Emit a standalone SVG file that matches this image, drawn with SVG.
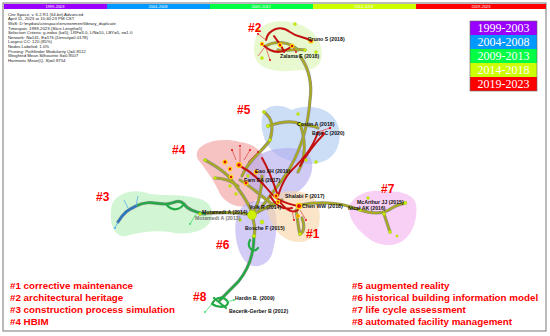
<svg xmlns="http://www.w3.org/2000/svg" width="550" height="336" viewBox="0 0 550 336">
<style>
.hdr{font-family:"Liberation Sans",Arial,sans-serif;font-size:4.3px;fill:#222}
.bar{font-family:"Liberation Sans",Arial,sans-serif;font-size:4px;fill:#fff;text-anchor:middle}
.leg{font-family:"Liberation Serif","Times New Roman",serif;font-size:12px;fill:#fff;text-anchor:middle}
.cl{font-family:"Liberation Sans",Arial,sans-serif;font-size:12px;font-weight:bold;fill:#ff0000}
.bt{font-family:"Liberation Sans",Arial,sans-serif;font-size:9.8px;font-weight:bold;fill:#ff0000}
.nl{font-family:"Liberation Sans",Arial,sans-serif;font-size:5.2px;font-weight:bold;fill:#111}
.blob{stroke:none;opacity:0.6}
.sh{fill:none;stroke:#8f8f8f;stroke-width:3.2;stroke-linecap:round}
.ol{fill:none;stroke:#a9aa1e;stroke-width:2;stroke-linecap:round}
.rd{fill:none;stroke:#c4100f;stroke-width:2;stroke-linecap:round}
.rt{fill:none;stroke:#e04040;stroke-width:0.7}
.gr{fill:none;stroke:#22aa44;stroke-width:2.2;stroke-linecap:round}
.gt{fill:none;stroke:#44dd66;stroke-width:0.8}
.bl{fill:none;stroke:#2a78c0;stroke-width:2.4;stroke-linecap:round}
.bt2{fill:none;stroke:#55aaee;stroke-width:0.8}
.yn{fill:#ccf000;stroke:#aacc00;stroke-width:0.4}
.rn{fill:#e01010}
.rr{fill:#e01010;stroke:#ffd400;stroke-width:1.2}
</style>
<rect x="3" y="3" width="543" height="328" fill="#fff" stroke="#777" stroke-width="1"/>
<g id="timebar">
<rect x="4" y="4" width="103" height="5" fill="#9900ff"/>
<rect x="107" y="4" width="103" height="5" fill="#0099ff"/>
<rect x="210" y="4" width="103" height="5" fill="#00ff44"/>
<rect x="313" y="4" width="103" height="5" fill="#ccff00"/>
<rect x="416" y="4" width="130" height="5" fill="#ff0000"/>
<text class="bar" x="55" y="8.2">1999-2003</text>
<text class="bar" x="158" y="8.2">2004-2008</text>
<text class="bar" x="261" y="8.2">2009-2013</text>
<text class="bar" x="364" y="8.2">2014-2018</text>
<text class="bar" x="481" y="8.2">2019-2023</text>
</g>
<g id="header">
<text class="hdr" x="8" y="15.5">Cite Space, v. 6.2.R1 (64-bit) Advanced</text>
<text class="hdr" x="8" y="20.2">April 11, 2023 at 10:40:23 PM CST</text>
<text class="hdr" x="8" y="24.8">WoS: D:\mydata\citespace\environment\library_duplicate</text>
<text class="hdr" x="8" y="29.5">Timespan: 1999-2023 (Slice Length=5)</text>
<text class="hdr" x="8" y="34.1">Selection Criteria: g-index (k=5), LRF=3.0, L/N=10, LBY=5, e=1.0</text>
<text class="hdr" x="8" y="38.8">Network: N=141, E=176 (Density=0.0178)</text>
<text class="hdr" x="8" y="43.4">Largest CC: 120 (85%)</text>
<text class="hdr" x="8" y="48.1">Nodes Labeled: 1.0%</text>
<text class="hdr" x="8" y="52.7">Pruning: Pathfinder Modularity Q=0.8112</text>
<text class="hdr" x="8" y="57.4">Weighted Mean Silhouette S=0.9507</text>
<text class="hdr" x="8" y="62">Harmonic Mean(Q, S)=0.8754</text>
</g>
<g id="legend">
<rect x="470" y="21" width="67" height="14" fill="#9900ff"/>
<rect x="470" y="35" width="67" height="14" fill="#0099ff"/>
<rect x="470" y="49" width="67" height="14" fill="#00ff44"/>
<rect x="470" y="63" width="67" height="14" fill="#ccff00"/>
<rect x="470" y="77" width="67" height="14" fill="#ff0000"/>
<rect x="470" y="21" width="67" height="70" fill="none" stroke="#666" stroke-width="0.6"/>
<text class="leg" x="503.5" y="32">1999-2003</text>
<text class="leg" x="503.5" y="46">2004-2008</text>
<text class="leg" x="503.5" y="60">2009-2013</text>
<text class="leg" x="503.5" y="74">2014-2018</text>
<text class="leg" x="503.5" y="88">2019-2023</text>
</g>
<g id="clusters">
<path id="c2" class="blob" fill="#d8f5b0" d="M258 32 C262 22 280 18 298 24 C312 28 322 40 322 54 C322 66 312 72 298 70 C288 72 272 72 262 66 C252 60 252 44 258 32 Z"/>
<path id="c5" class="blob" fill="#a8c8f0" d="M264 112 C268 104 282 104 292 110 C305 104 325 106 334 118 C342 128 342 146 332 156 C322 166 300 166 288 160 C276 156 266 148 263 134 C261 126 261 118 264 112 Z"/>
<path id="c4" class="blob" fill="#f29a9a" d="M198 150 C205 140 225 138 240 142 C255 144 266 152 266 168 C266 182 262 196 252 204 C240 210 226 204 220 194 C214 180 206 170 200 162 C196 158 196 154 198 150 Z"/>
<path id="cmid" class="blob" fill="#b0a8ee" d="M252 160 C262 150 285 145 302 150 C315 155 315 172 306 184 C296 196 282 202 266 198 C252 194 244 182 246 172 C247 166 249 163 252 160 Z"/>
<path id="c6" class="blob" fill="#b4aaf0" d="M240 210 C246 200 262 198 272 206 C280 216 276 240 272 254 C268 266 254 270 246 262 C236 252 234 230 236 220 C237 216 238 213 240 210 Z"/>
<path id="c1" class="blob" fill="#f8d4a4" d="M268 200 C276 190 298 188 312 196 C322 204 322 226 314 236 C306 244 292 244 282 236 C272 228 264 212 268 200 Z"/>
<path id="c3" class="blob" fill="#b4f0b8" d="M112 204 C118 192 136 188 150 194 C166 196 180 194 196 198 C210 200 216 212 210 222 C204 232 186 236 170 232 C156 230 140 232 126 236 C114 238 108 222 112 204 Z"/>
<path id="c7" class="blob" fill="#f4b0ee" d="M350 204 C356 194 372 188 384 192 C398 190 414 194 416 204 C418 216 414 232 404 240 C394 248 378 246 368 238 C358 230 346 218 350 204 Z"/>
</g>
<g id="connectors">
<path class="sh" d="M300 56 C310 70 312 86 310 100 C308 130 300 150 290 168 C282 182 270 195 258 212"/>
<path class="ol" d="M300 56 C310 70 312 86 310 100 C308 130 300 150 290 168 C282 182 270 195 258 212"/>
<path class="sh" d="M266 46 C276 40 290 42 298 50 M278 50 C286 52 296 48 305 50"/>
<path class="ol" d="M266 46 C276 40 290 42 298 50 M278 50 C286 52 296 48 305 50"/>
<path class="sh" d="M264 112 C272 118 274 126 270 140 C262 152 248 160 242 176 M268 126 C280 122 292 120 300 124 C308 127 312 124 318 128 M300 124 C306 140 306 158 298 172"/>
<path class="ol" d="M264 112 C272 118 274 126 270 140 C262 152 248 160 242 176 M268 126 C280 122 292 120 300 124 C308 127 312 124 318 128 M300 124 C306 140 306 158 298 172"/>
<path class="sh" d="M205 160 C212 164 220 168 228 176 C236 186 244 194 252 212 M215 178 C222 178 230 180 238 186 M240 180 C250 186 262 196 274 206"/>
<path class="ol" d="M205 160 C212 164 220 168 228 176 C236 186 244 194 252 212 M215 178 C222 178 230 180 238 186 M240 180 C250 186 262 196 274 206"/>
<path class="sh" d="M200 214 C220 212 238 212 252 215 C262 210 272 204 282 200 M252 215 C258 206 262 190 262 176 M252 215 C254 222 256 230 254 236"/>
<path class="ol" d="M200 214 C220 212 238 212 252 215 C262 210 272 204 282 200 M252 215 C258 206 262 190 262 176 M252 215 C254 222 256 230 254 236"/>
<path class="sh" d="M300 205 C325 200 345 204 360 210 C372 214 384 214 392 208 C398 204 402 204 405 203 M384 214 C386 220 388 226 390 232"/>
<path class="ol" d="M300 205 C325 200 345 204 360 210 C372 214 384 214 392 208 C398 204 402 204 405 203 M384 214 C386 220 388 226 390 232"/>
<path class="sh" d="M296 210 C298 220 298 228 300 234 C304 232 305 226 302 218"/>
<path class="ol" d="M296 210 C298 220 298 228 300 234 C304 232 305 226 302 218"/>
<path class="rd" d="M266 40 C268 30 280 24 290 32 C298 38 304 36 311 41 M262 44 C270 52 280 56 292 46 M274 36 C278 42 282 46 284 52"/>
<path class="rt" d="M266 40 L258 34 M266 48 L270 60 M292 46 L296 52 M264 48 L258 56"/>
<path class="rd" d="M240 166 C252 172 262 182 270 192 C276 200 288 204 298 206 M262 158 C268 168 272 178 278 196 M318 132 C312 150 302 160 290 172 C282 182 280 190 278 196 M324 134 C316 142 308 152 300 166"/>
<path class="rd" d="M280 202 C286 210 292 214 298 210 M270 196 C276 206 284 210 292 208"/>
<path class="rt" d="M236 160 L232 150 M240 162 L240 148 M244 160 L250 150 M248 162 L258 152 M318 132 L330 128 M300 210 L306 220 M292 210 L294 220"/>
<path class="sh" d="M118 222 C124 212 128 210 136 206 C148 200 156 204 166 204 C174 204 178 198 184 204 C188 210 196 212 205 214"/>
<path class="gr" d="M136 206 C148 200 156 204 166 204 C174 204 178 198 184 204 C188 210 196 212 205 214 M166 204 C172 212 180 210 184 204"/>
<path class="bl" d="M118 222 C124 212 128 210 136 206"/>
<path class="bt2" d="M118 222 L115 228 M128 208 L124 200 M136 206 L138 196"/>
<path class="gt" d="M196 214 L190 224"/>
<path class="sh" d="M254 236 C254 256 248 270 238 282 C230 290 226 294 220 300"/>
<path class="gr" d="M254 236 C254 256 248 270 238 282 C230 290 226 294 220 300 M212 304 C216 296 224 296 228 302 C228 308 218 308 212 304 Z M214 298 L226 308 M250 240 C246 248 254 254 258 248"/>
<path class="gt" d="M212 304 L205 312 M226 302 L234 300"/>
</g>
<g id="nodes">
<circle class="yn" cx="258" cy="30" r="1.5"/><circle class="yn" cx="295" cy="24" r="1.5"/><circle class="yn" cx="316" cy="52" r="1.5"/><circle class="yn" cx="262" cy="58" r="1.5"/><circle class="yn" cx="305" cy="50" r="1.5"/>
<circle class="rn" cx="258" cy="34" r="1"/><circle class="rn" cx="270" cy="60" r="1"/><circle class="rn" cx="296" cy="52" r="1"/>
<circle class="rr" cx="311" cy="41" r="2"/><circle class="rr" cx="292" cy="46" r="1.8"/><circle class="rr" cx="280" cy="45" r="1.8"/><circle class="rr" cx="262" cy="44" r="1.6"/>
<circle class="yn" cx="264" cy="112" r="1.5"/><circle class="yn" cx="268" cy="126" r="1.8"/><circle class="yn" cx="300" cy="124" r="1.6"/><circle class="yn" cx="270" cy="140" r="1.6"/><circle class="yn" cx="298" cy="114" r="1.4"/><circle class="yn" cx="306" cy="160" r="1.5"/><circle class="yn" cx="316" cy="162" r="1.5"/>
<circle class="rn" cx="330" cy="128" r="1.2"/><circle class="rn" cx="323" cy="133" r="1.5"/>
<circle class="yn" cx="205" cy="160" r="1.5"/><circle class="yn" cx="215" cy="178" r="1.4"/><circle class="yn" cx="230" cy="186" r="1.4"/><circle class="yn" cx="236" cy="194" r="1.4"/><circle class="yn" cx="248" cy="176" r="1.4"/>
<circle class="rn" cx="232" cy="150" r="1"/><circle class="rn" cx="240" cy="146" r="1"/><circle class="rn" cx="250" cy="150" r="1"/><circle class="rn" cx="258" cy="152" r="1"/>
<circle class="rr" cx="225" cy="162" r="2"/><circle class="rr" cx="239" cy="165" r="2.4"/><circle class="rr" cx="230" cy="169" r="1.8"/><circle class="rr" cx="231" cy="177" r="1.8"/><circle class="rr" cx="256" cy="172" r="1.8"/><circle class="rr" cx="246" cy="183" r="2"/>
<circle class="rr" cx="276" cy="196" r="2"/><circle class="rr" cx="278" cy="202" r="1.6"/><circle class="rr" cx="299" cy="206" r="2.6"/><circle class="rr" cx="298" cy="216" r="1.4"/>
<circle class="rn" cx="306" cy="220" r="1"/><circle class="rn" cx="294" cy="220" r="1"/>
<circle class="yn" cx="252" cy="215" r="4.5"/><circle class="yn" cx="262" cy="222" r="2"/><circle class="yn" cx="254" cy="236" r="1.8"/><circle class="yn" cx="240" cy="220" r="1.4"/><circle class="yn" cx="300" cy="234" r="1.6"/>
<circle class="yn" cx="360" cy="210" r="1.5"/><circle class="yn" cx="384" cy="214" r="1.5"/><circle class="yn" cx="405" cy="203" r="1.8"/><circle class="yn" cx="390" cy="232" r="1.6"/><circle class="yn" cx="397" cy="236" r="1.2"/><circle class="yn" cx="368" cy="198" r="1.4"/><circle class="yn" cx="350" cy="208" r="1.2"/>
<circle class="yn" cx="200" cy="214" r="1.4"/><circle fill="#44dd66" cx="190" cy="224" r="1"/><circle fill="#55aaee" cx="115" cy="228" r="1"/>
<circle fill="#44dd66" cx="205" cy="312" r="1"/><circle fill="#44dd66" cx="234" cy="300" r="1"/>
</g>
<g id="node-labels">
<text class="nl" x="308" y="41">Bruno S (2018)</text>
<text class="nl" x="280" y="58">Zalama E (2018)</text>
<text class="nl" x="297" y="126">Costin A (2018)</text>
<text class="nl" x="312" y="135">Baje C (2020)</text>
<text class="nl" x="255" y="173">Gao XH (2019)</text>
<text class="nl" x="244" y="182">Farn EA (2017)</text>
<text class="nl" x="285" y="198">Shalabi F (2017)</text>
<text class="nl" x="249" y="209">Volk R (2014)</text>
<text class="nl" x="302" y="208">Chen WW (2018)</text>
<text class="nl" x="195" y="219.5" style="fill:#777">Motamedi A (2013)</text>
<text class="nl" x="202" y="214">Motamedi A (2014)</text>
<text class="nl" x="245" y="230">Bosche F (2015)</text>
<text class="nl" x="357" y="204">McArthur JJ (2015)</text>
<text class="nl" x="348" y="210">Nicał AK (2016)</text>
<text class="nl" x="235" y="300">Hardin B. (2009)</text>
<text class="nl" x="229" y="313">Becerik-Gerber B (2012)</text>
</g>
<g id="cluster-labels">
<text class="cl" x="248" y="32">#2</text>
<text class="cl" x="237" y="114">#5</text>
<text class="cl" x="172" y="154">#4</text>
<text class="cl" x="96" y="201">#3</text>
<text class="cl" x="381" y="193">#7</text>
<text class="cl" x="306" y="238">#1</text>
<text class="cl" x="216" y="249">#6</text>
<text class="cl" x="193" y="301">#8</text>
</g>
<g id="topics">
<text class="bt" x="10" y="289">#1 corrective maintenance</text>
<text class="bt" x="10" y="301">#2 architectural heritage</text>
<text class="bt" x="10" y="313">#3 construction process simulation</text>
<text class="bt" x="10" y="324.5">#4 HBIM</text>
<text class="bt" x="352" y="289">#5 augmented reality</text>
<text class="bt" x="352" y="301">#6 historical building information model</text>
<text class="bt" x="352" y="313">#7 life cycle assessment</text>
<text class="bt" x="352" y="324.5">#8 automated facility management</text>
</g>
</svg>
